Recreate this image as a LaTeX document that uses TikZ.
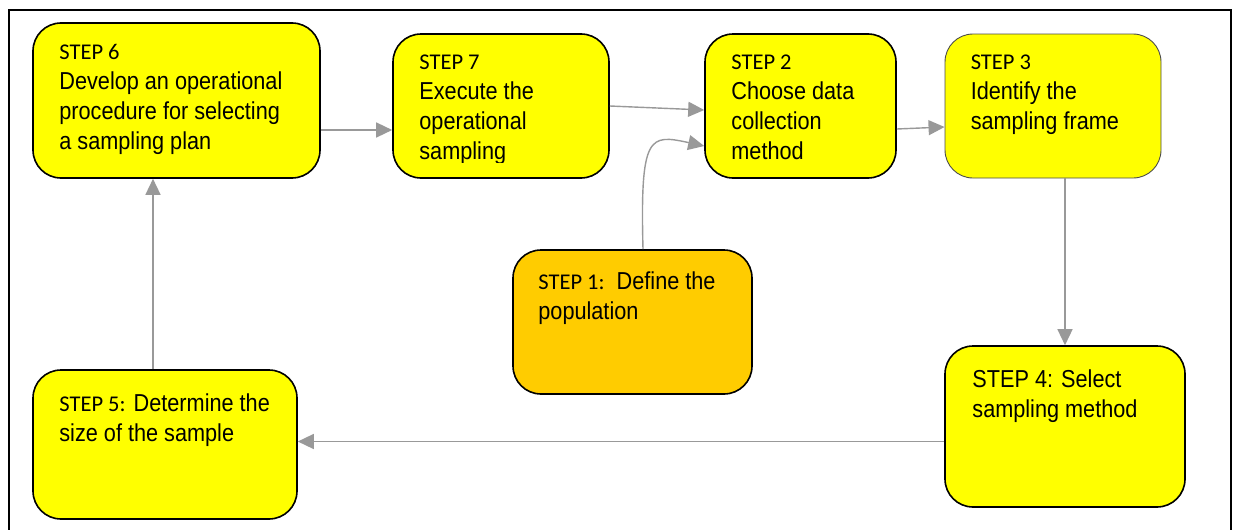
\documentclass[tikz,border=0pt]{standalone}
\usepackage{fontspec}
\setmainfont{Liberation Sans}[FakeStretch=0.885]
\newfontfamily\stepfont{Carlito}
\usetikzlibrary{arrows.meta}

\definecolor{boxyellow}{HTML}{FFFF00}
\definecolor{boxorange}{HTML}{FFCC00}
\definecolor{linkgray}{HTML}{999999}
\newcommand{\steplbl}[1]{{\stepfont\fontsize{22.5}{30}\selectfont #1}}

\begin{document}
\begin{tikzpicture}[x=1pt,y=-1pt,
  stepbox/.style={draw=black,line width=1.6pt,fill=boxyellow,rounded corners=28pt,inner sep=0pt},
  txt/.style={anchor=base west,align=left,inner sep=0pt,font=\fontsize{24.5}{30}\selectfont},
  link/.style={draw=linkgray,line width=1.4pt,-{Triangle[length=16pt,width=15pt]}}]

\useasboundingbox (0,0) rectangle (1234,530);
\draw[line width=1.8pt] (9,530) |- (1231,10) -- (1231,530);

% the seven steps
\node[stepbox,minimum width=287pt,minimum height=155pt] (s6) at (176.5,100.5) {};
\node[stepbox,minimum width=216pt,minimum height=144pt] (s7) at (501,106) {};
\node[stepbox,minimum width=191pt,minimum height=144pt] (s2) at (800.5,106) {};
\node[stepbox,draw=black!70,line width=0.9pt,minimum width=216pt,minimum height=144pt] (s3) at (1053,106) {};
\node[stepbox,fill=boxorange,minimum width=239pt,minimum height=144pt] (s1) at (632.5,322) {};
\node[stepbox,minimum width=264pt,minimum height=149pt] (s5) at (165,444.5) {};
\node[stepbox,minimum width=240pt,minimum height=161pt] (s4) at (1065,426.5) {};

% texts, placed by the baseline of their last line
\node[txt] (t6) at ([shift={(27pt,-127pt)}]s6.north west)
  {\steplbl{STEP 6}\\Develop an operational\\procedure for selecting\\a sampling plan};
\begin{scope}
  \clip (s7.north west) rectangle ([yshift=16pt]s7.south east);
  \node[txt] (t7) at ([shift={(27pt,-126pt)}]s7.north west)
    {\steplbl{STEP 7}\\Execute the\\operational\\sampling};
\end{scope}
\node[txt] (t2) at ([shift={(27pt,-126pt)}]s2.north west)
  {\steplbl{STEP 2}\\Choose data\\collection\\method};
\node[txt] (t3) at ([shift={(26pt,-96pt)}]s3.north west)
  {\steplbl{STEP 3}\\Identify the\\sampling frame};
\node[txt] (t1) at ([shift={(26pt,-70pt)}]s1.north west)
  {\steplbl{STEP 1:}\ \ Define the\\population};
\node[txt] (t5) at ([shift={(27pt,-72pt)}]s5.north west)
  {\steplbl{STEP 5:} Determine the\\size of the sample};
\node[txt] (t4) at ([shift={(28pt,-72pt)}]s4.north west)
  {STEP 4: Select\\sampling method};

% connectors
\draw[link] ([yshift=-29.5pt]s6.east) -- ([yshift=-24pt]s7.west);
\draw[link] (s7.east) -- ([yshift=-4pt]s2.west);
\draw[link] ([xshift=10.5pt]s1.north) .. controls +(-3,-115) and +(-55,-12) .. ([yshift=-40pt]s2.west);
\draw[link] ([yshift=-23pt]s2.east) -- ([yshift=-21pt]s3.west);
\draw[link] ([xshift=12pt]s3.south) -- (s4.north);
\draw[link] ([yshift=-15pt]s4.west) -- ([yshift=3pt]s5.east);
\draw[link] ([xshift=-12pt]s5.north) -- ([xshift=-23.5pt]s6.south);

\end{tikzpicture}
\end{document}
